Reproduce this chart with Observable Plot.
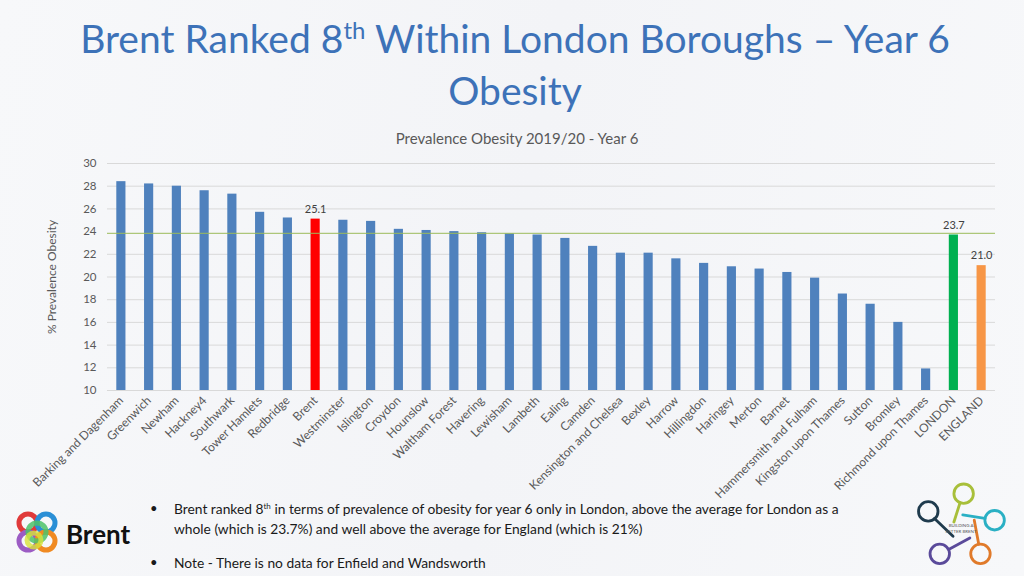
<!DOCTYPE html>
<html>
<head>
<meta charset="utf-8">
<script src="https://cdn.jsdelivr.net/npm/d3@7"></script>
<script src="https://cdn.jsdelivr.net/npm/@observablehq/plot@0.6"></script>
<style>
  html, body { margin: 0; padding: 0; }
  body { width: 1024px; height: 576px; position: relative; overflow: hidden;
         background: linear-gradient(100deg, #f7f8fa 0%, #f3f4f7 50%, #f7f8fa 100%);
         font-family: Lato, "Open Sans", sans-serif; }
  #title { position: absolute; left: 0; width: 1030px; top: 15px; text-align: center;
           color: #3d72b8; font-size: 39px; line-height: 47px; font-weight: 400; }
  #title sup { font-size: 24px; vertical-align: 0; position: relative; top: -14px; }
  #subtitle { position: absolute; left: 0; width: 1034px; top: 129px; text-align: center;
              color: #595959; font-size: 15px; }
  #chart { position: absolute; left: 0; top: 150px; }
  .bul { position: absolute; left: 150px; font-size: 13px; color: #1a1a1a; }
  .txt { position: absolute; left: 174px; font-size: 13.8px; color: #1a1a1a; line-height: 18px; white-space: nowrap; }
  .txt sup { font-size: 8px; vertical-align: 0; position: relative; top: -5px; }
  #logoL { position: absolute; left: 14px; top: 510px; }
  #logoR { position: absolute; left: 915px; top: 472px; }
</style>
</head>
<body>
<div id="title">Brent Ranked 8<sup>th</sup> Within London Boroughs – Year 6<br>Obesity</div>
<div id="subtitle">Prevalence Obesity 2019/20 - Year 6</div>
<div id="chart"></div>

<div class="bul" style="top:500px">•</div>
<div class="txt" style="top:500px">Brent ranked 8<sup>th</sup> in terms of prevalence of obesity for year 6 only in London, above the average for London as a<br>whole (which is 23.7%) and well above the average for England (which is 21%)</div>
<div class="bul" style="top:554px">•</div>
<div class="txt" style="top:554px">Note - There is no data for Enfield and Wandsworth</div>

<svg id="logoL" width="125" height="50" viewBox="0 0 125 50">
  <g fill="none" stroke-width="5">
    <circle cx="14" cy="13" r="9" stroke="#e03a3a"/>
    <circle cx="32" cy="13" r="9" stroke="#2a8fd6"/>
    <circle cx="14" cy="31" r="9" stroke="#9c5cc4"/>
    <circle cx="32" cy="31" r="9" stroke="#f08a22"/>
    <circle cx="23" cy="22" r="9" stroke="#4cc26a" opacity="0.85"/>
    <circle cx="20" cy="30" r="7" stroke="#d8e23a" opacity="0.8"/>
  </g>
  <text x="52" y="34" font-family="Lato, sans-serif" font-weight="700" font-size="26" fill="#111">Brent</text>
</svg>

<svg id="logoR" width="92" height="100" viewBox="0 0 104 104">
  <g fill="none" stroke-width="3.2" stroke-linecap="round">
    <circle cx="55" cy="20" r="11" stroke="#a8bf3a"/><line x1="51" y1="30" x2="44" y2="52" stroke="#a8bf3a"/>
    <circle cx="15" cy="40" r="11" stroke="#1f3b4d"/><line x1="22" y1="48" x2="43" y2="68" stroke="#1f3b4d"/>
    <circle cx="90" cy="50" r="11" stroke="#2ab0c4"/><line x1="79" y1="48" x2="54" y2="44" stroke="#2ab0c4"/>
    <circle cx="28" cy="88" r="11" stroke="#5a4a9a"/><line x1="38" y1="83" x2="62" y2="70" stroke="#5a4a9a"/>
    <circle cx="74" cy="88" r="11" stroke="#e07a2a"/><line x1="72" y1="77" x2="67" y2="50" stroke="#e07a2a"/>
  </g>
  <text x="52" y="58" font-family="Lato, sans-serif" font-size="5" fill="#555" text-anchor="middle">BUILDING A</text>
  <text x="52" y="64" font-family="Lato, sans-serif" font-size="5" fill="#555" text-anchor="middle">BETTER BRENT</text>
</svg>

<script>
const boroughs = ["Barking and Dagenham","Greenwich","Newham","Hackney4","Southwark","Tower Hamlets","Redbridge","Brent","Westminster","Islington","Croydon","Hounslow","Waltham Forest","Havering","Lewisham","Lambeth","Ealing","Camden","Kensington and Chelsea","Bexley","Harrow","Hillingdon","Haringey","Merton","Barnet","Hammersmith and Fulham","Kingston upon Thames","Sutton","Bromley","Richmond upon Thames","LONDON","ENGLAND"];
const prevalence = [28.4,28.2,28.0,27.6,27.3,25.7,25.2,25.1,25.0,24.9,24.2,24.1,24.0,23.9,23.8,23.7,23.4,22.7,22.1,22.1,21.6,21.2,20.9,20.7,20.4,19.9,18.5,17.6,16.0,11.9,23.7,21.0];
const labelled = ["Brent","LONDON","ENGLAND"];
const yTicks = [10,12,14,16,18,20,22,24,26,28,30];
const averageLine = [23.85];

const data = boroughs.map((b, i) => ({borough: b, value: prevalence[i]}));
const colorOf = b => b === "Brent" ? "#ff0000" : b === "LONDON" ? "#00b050" : b === "ENGLAND" ? "#f79646" : "#4f81bd";

const chart = Plot.plot({
  width: 1024,
  height: 350,
  marginLeft: 107,
  marginRight: 29,
  marginTop: 13,
  marginBottom: 110,
  style: {background: "transparent", fontFamily: "Lato, 'Open Sans', sans-serif"},
  x: {domain: boroughs, paddingInner: 0.67, paddingOuter: 0.335, round: false, label: null},
  y: {domain: [10, 30], label: null},
  marks: [
    Plot.gridY(yTicks.filter(t => t !== 24), {stroke: "#d9d9d9", strokeOpacity: 1}),
    Plot.barY(data, {x: "borough", y1: 10, y2: "value", fill: d => colorOf(d.borough)}),
    Plot.ruleY(averageLine, {stroke: "#9bbb59", strokeWidth: 1}),
    Plot.ruleY([10], {stroke: "#d9d9d9"}),
    Plot.text(data.filter(d => labelled.includes(d.borough)), {x: "borough", y: "value", text: d => d.value.toFixed(1), dy: -10, fontSize: 11, fill: "#404040"}),
    Plot.axisY({ticks: yTicks, tickSize: 0, tickPadding: 11, fontSize: 11.5, fill: "#595959", label: "% Prevalence Obesity", labelAnchor: "center", labelOffset: 60, labelArrow: "none"}),
    Plot.axisX({tickSize: 0, tickPadding: 8, tickRotate: -45, fontSize: 12, fill: "#595959", label: null})
  ]
});
document.getElementById("chart").appendChild(chart);
chart.querySelectorAll('[aria-label="y-axis label"] text').forEach(t => { t.setAttribute("font-size", "12"); t.setAttribute("fill", "#595959"); });
</script>
</body>
</html>
